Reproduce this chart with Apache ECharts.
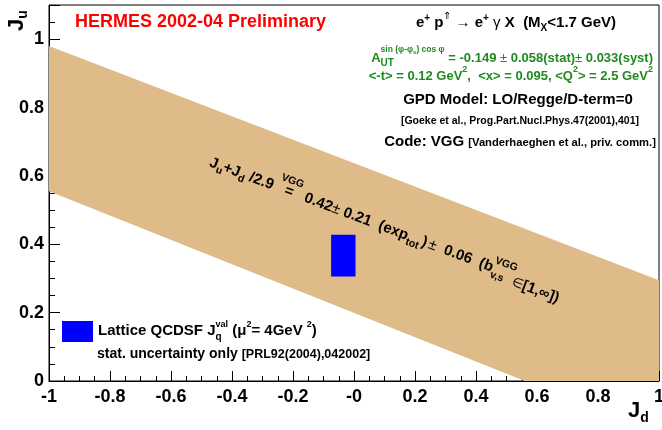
<!DOCTYPE html>
<html><head><meta charset="utf-8">
<script src="https://cdn.jsdelivr.net/npm/echarts@6/dist/echarts.min.js"></script>
<style>html,body{margin:0;padding:0;background:#fff}#c{width:662px;height:430px}</style>
</head><body><div id="c"></div>
<script>
// ---- data ----
const xTickLabels = ['-1','-0.8','-0.6','-0.4','-0.2','-0','0.2','0.4','0.6','0.8','1'];
const yTickLabels = ['0','0.2','0.4','0.6','0.8','1'];
// VGG band (Ju + Jd/2.9 = 0.42 +- 0.21) boundary, polygon vertices
const bandJd = [-1, 1, 1, 0.56, -1];
const bandJu = [0.98, 0.295, 0, 0, 0.555];
// lattice QCDSF box
const latticeJd = [-0.075, 0.005];
const latticeJu = [0.306, 0.428];

// ---- text layout helpers ----
const FF = "'Liberation Sans', Arial, Helvetica, sans-serif";
const ctx = document.createElement('canvas').getContext('2d');
function fnt(size, bold){ return (bold === false ? '' : 'bold ') + size + 'px ' + FF; }
function tw(t, f){ ctx.font = f; return ctx.measureText(t).width; }
function seq(parts, color, gx, gy, align, rotation){
  let x = 0, maxX = 0; const els = [];
  for (const p of parts){
    const f = fnt(p.s, p.b);
    const w = tw(p.t, f);
    if (p.sync) x = Math.max(x, maxX);
    els.push({type:'text', x: x + (p.dx || 0), y: p.dy || 0, z: 50, silent: true,
      style:{text: p.t, font: f, fill: p.c || color, textAlign:'left', textVerticalAlign:'middle', align:'left', verticalAlign:'middle'}});
    if (p.back) maxX = Math.max(maxX, x + (p.dx || 0) + w); else x += w + (p.dx || 0);
  }
  const width = Math.max(x, maxX);
  const off = align === 'center' ? -width/2 : (align === 'right' ? -width : 0);
  els.forEach(e => e.x += off);
  return {type:'group', x: gx, y: gy, rotation: rotation || 0, z: 50, silent: true, children: els};
}
const G = '#1f8a1f';
const graphics = [
  seq([{t:'HERMES 2002-04 Preliminary', s:18}], '#ff0000', 75, 22, 'left'),
  seq([{t:'e', s:15}, {t:'+', s:10, dy:-5}, {t:' p', s:15}, {t:'⇑', s:10, dy:-7, b:false}, {t:' → ', s:15, b:false}, {t:'e', s:15}, {t:'+', s:10, dy:-5}, {t:' γ', s:15, b:false}, {t:' X  (M', s:15}, {t:'X', s:10, dy:5}, {t:'<1.7 GeV)', s:15}], '#000', 516, 23, 'center'),
  seq([{t:'A', s:13}, {t:'UT', s:10, dy:5, back:true}, {t:'sin (φ-φ', s:8.5, dy:-8}, {t:'s', s:6, dy:-6}, {t:') cos φ', s:8.5, dy:-8}, {t:' = -0.149 ', s:13, sync:true}, {t:'±', s:13, b:false}, {t:' 0.058(stat)', s:13}, {t:'±', s:13, b:false}, {t:' 0.033(syst)', s:13}], G, 653, 58, 'right'),
  seq([{t:'<-t> = 0.12 GeV', s:13}, {t:'2', s:9, dy:-6}, {t:',  <x> = 0.095, <Q', s:13}, {t:'2', s:9, dy:-6}, {t:'> = 2.5 GeV', s:13}, {t:'2', s:9, dy:-6}], G, 653, 76, 'right'),
  seq([{t:'GPD Model: LO/Regge/D-term=0', s:15}], '#000', 518, 100, 'center'),
  seq([{t:'[Goeke et al., Prog.Part.Nucl.Phys.47(2001),401]', s:10.5}], '#000', 520, 121, 'center'),
  seq([{t:'Code: VGG ', s:15}, {t:'[Vanderhaeghen et al., priv. comm.]', s:11.2, dy:1}], '#000', 520, 142, 'center'),
  seq([{t:'J', s:15}, {t:'u', s:10.5, dy:5}, {t:'+J', s:15}, {t:'d', s:10.5, dy:5}, {t:' /2.9', s:15},
       {t:'VGG', s:10.5, dy:-11, dx:5, back:true}, {t:'   =', s:15}, {t:'   0.42', s:15},
       {t:'±', s:15, b:false}, {t:' 0.21  (exp', s:15}, {t:'tot', s:10.5, dy:6}, {t:')', s:15, dx:2}, {t:'±', s:15, b:false, dx:2},
       {t:'  0.06  (b', s:15}, {t:'v,s', s:10.5, dy:7, back:true}, {t:'VGG', s:10.5, dy:-8}, {t:'∈', s:13, b:false, dy:6, sync:true}, {t:'[1,∞])', s:15, dy:6}],
      '#000', 210, 162, 'left', -0.358),
  seq([{t:'Lattice QCDSF J', s:15}, {t:'q', s:10, dy:6, back:true}, {t:'val', s:9, dy:-6}, {t:' (μ', s:15, sync:true}, {t:'2', s:9, dy:-6}, {t:'= 4GeV ', s:15}, {t:'2', s:9, dy:-6}, {t:')', s:15}], '#000', 98, 331, 'left'),
  seq([{t:'stat. uncertainty only ', s:14}, {t:'[PRL92(2004),042002]', s:12.5, dy:1}], '#000', 97, 354, 'left'),
  seq([{t:'J', s:22}, {t:'u', s:14, dy:6}], '#000', 17, 31, 'left', Math.PI/2),
  seq([{t:'J', s:22}, {t:'d', s:14, dy:7}], '#000', 628, 411, 'left'),
  {type:'rect', x:62, y:321, shape:{width:31, height:21}, style:{fill:'#0000ff'}, z:50, silent:true}
];

const labelStyle = {color:'#000', fontSize:18, fontWeight:'bold', fontFamily:FF};
const chart = echarts.init(document.getElementById('c'), null, {renderer:'canvas'});
chart.setOption({
  animation: false,
  grid: {left:49, right:3, top:5, bottom:49, show:true, borderColor:'#000', borderWidth:1, backgroundColor:'transparent', containLabel:false, outerBoundsMode:'none'},
  xAxis: {type:'value', min:-1, max:1, interval:0.2,
    axisLine:{onZero:false, lineStyle:{color:'#000', width:1}},
    axisTick:{inside:true, length:10, lineStyle:{color:'#000'}},
    minorTick:{show:true, splitNumber:4, length:5, lineStyle:{color:'#000'}},
    splitLine:{show:false}, minorSplitLine:{show:false},
    axisLabel:Object.assign({margin:7, formatter: v => { const i = Math.round((v+1)/0.2); return xTickLabels[i] || ''; }}, labelStyle)},
  yAxis: [
    {type:'value', min:0, max:1.1, interval:0.2,
     axisLine:{onZero:false, lineStyle:{color:'#000', width:1}},
     axisTick:{inside:true, length:11, lineStyle:{color:'#000'}},
     splitLine:{show:false},
     axisLabel:Object.assign({margin:5, formatter: v => v > 1.01 ? '' : (yTickLabels[Math.round(v/0.2)] || '')}, labelStyle)},
    {type:'value', min:0, max:1.1, interval:0.05, position:'left', offset:0,
     axisLine:{show:false, onZero:false}, axisTick:{inside:true, length:6, lineStyle:{color:'#000'}},
     axisLabel:{show:false}, splitLine:{show:false}}
  ],
  series: [
    {type:'custom', name:'VGG band', xAxisIndex:0, yAxisIndex:0, silent:true, z:1,
     data:[[0, 0.5]],
     renderItem: (params, api) => ({type:'polygon',
        shape:{points: bandJd.map((x, i) => api.coord([x, bandJu[i]]))},
        style:{fill:'#debb88'}})},
    {type:'custom', name:'Lattice QCDSF', xAxisIndex:0, yAxisIndex:0, silent:true, z:3,
     encode:{x:[0,2], y:[1,3]},
     data:[[latticeJd[0], latticeJu[0], latticeJd[1], latticeJu[1]]],
     renderItem: (params, api) => {
       const p0 = api.coord([api.value(0), api.value(3)]);
       const p1 = api.coord([api.value(2), api.value(1)]);
       return {type:'rect', shape:{x:p0[0], y:p0[1], width:p1[0]-p0[0], height:p1[1]-p0[1]}, style:{fill:'#0000ff'}};
     }}
  ],
  graphic: graphics
});
</script>
</body></html>
